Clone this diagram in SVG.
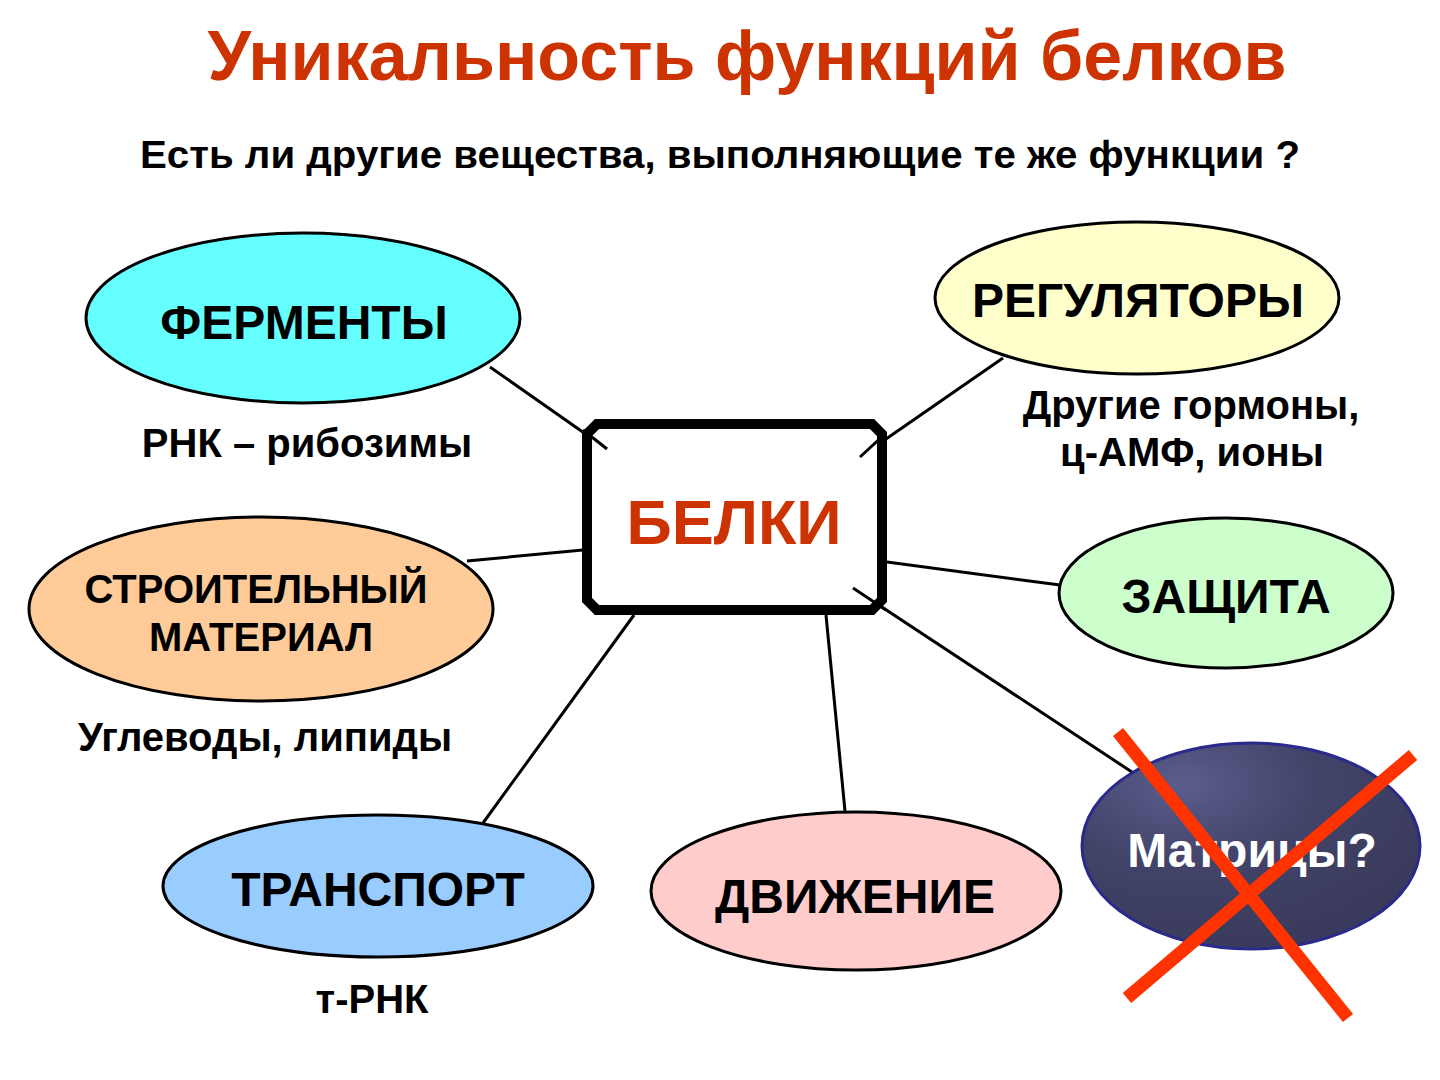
<svg xmlns="http://www.w3.org/2000/svg" width="1440" height="1080" viewBox="0 0 1440 1080">
<defs>
<style>
.t{font-family:"Liberation Sans",Arial,sans-serif;font-weight:bold;text-anchor:middle;fill:#000}
.node{stroke:#000;stroke-width:3}
.conn{stroke:#000;stroke-width:3;fill:none}
.x{stroke:#FF3300;stroke-width:13;stroke-linecap:butt}
</style>
<radialGradient id="mg" cx="0.3" cy="0.2" r="0.8">
<stop offset="0" stop-color="#5b5d8c"/>
<stop offset="0.5" stop-color="#414368"/>
<stop offset="1" stop-color="#3a3b5c"/>
</radialGradient>
</defs>
<rect width="1440" height="1080" fill="#fff"/>
<text class="t" x="747" y="80" font-size="70" style="fill:#CC3300">Уникальность функций белков</text>
<text class="t" x="720" y="168" font-size="38" textLength="1160" lengthAdjust="spacingAndGlyphs">Есть ли другие вещества, выполняющие те же функции ?</text>

<g id="connectors">
<line class="conn" x1="490" y1="367" x2="607" y2="449"/>
<line class="conn" x1="1003" y1="358" x2="860" y2="457"/>
<line class="conn" x1="467" y1="561" x2="583" y2="550"/>
<line class="conn" x1="887" y1="562" x2="1060" y2="585"/>
<line class="conn" x1="483" y1="823" x2="634" y2="615"/>
<line class="conn" x1="826" y1="615" x2="845" y2="811"/>
<line class="conn" x1="853" y1="588" x2="1141" y2="778"/>
</g>

<g id="fermenty">
<ellipse class="node" cx="303" cy="318" rx="217" ry="85" fill="#66FFFF"/>
<text class="t" x="304" y="339" font-size="48">ФЕРМЕНТЫ</text>
<text class="t" x="307" y="457" font-size="40">РНК – рибозимы</text>
</g>

<g id="regulyatory">
<ellipse class="node" cx="1137" cy="298" rx="202" ry="76" fill="#FFFFCC"/>
<text class="t" x="1138" y="317" font-size="48">РЕГУЛЯТОРЫ</text>
<text class="t" x="1191" y="419" font-size="40">Другие гормоны,</text>
<text class="t" x="1192" y="466" font-size="40">ц-АМФ, ионы</text>
</g>

<g id="belki">
<polygon points="597,424 872,424 882,434 882,600 872,610 597,610 587,600 587,434" fill="#fff" stroke="#000" stroke-width="10" stroke-linejoin="miter"/>
<line class="conn" x1="583" y1="430" x2="607" y2="449"/>
<line class="conn" x1="886" y1="433" x2="860" y2="457"/>
<line class="conn" x1="853" y1="588" x2="886" y2="610"/>
<text class="t" x="734" y="544" font-size="63" style="fill:#CC3300">БЕЛКИ</text>
</g>

<g id="stroitelny">
<ellipse class="node" cx="261" cy="609" rx="232" ry="92" fill="#FFCC99"/>
<text class="t" x="256" y="603" font-size="40">СТРОИТЕЛЬНЫЙ</text>
<text class="t" x="261" y="651" font-size="40">МАТЕРИАЛ</text>
<text class="t" x="265" y="751" font-size="40">Углеводы, липиды</text>
</g>

<g id="zashchita">
<ellipse class="node" cx="1226" cy="593" rx="167" ry="75" fill="#CCFFCC"/>
<text class="t" x="1226" y="613" font-size="48">ЗАЩИТА</text>
</g>

<g id="transport">
<ellipse class="node" cx="378" cy="886" rx="215" ry="71" fill="#99CCFF"/>
<text class="t" x="378" y="906" font-size="48">ТРАНСПОРТ</text>
<text class="t" x="372" y="1013" font-size="40">т-РНК</text>
</g>

<g id="dvizhenie">
<ellipse class="node" cx="856" cy="891" rx="205" ry="79" fill="#FFCCCC"/>
<text class="t" x="855" y="913" font-size="48">ДВИЖЕНИЕ</text>
</g>

<g id="matritsy">
<ellipse cx="1251" cy="846" rx="169" ry="103" fill="url(#mg)" stroke="#2a2a8c" stroke-width="3"/>
<text class="t" x="1252" y="867" font-size="48" style="fill:#fff">Матрицы?</text>
<line class="x" x1="1118" y1="732" x2="1348" y2="1018"/>
<line class="x" x1="1127" y1="998" x2="1413" y2="755"/>
</g>
</svg>
